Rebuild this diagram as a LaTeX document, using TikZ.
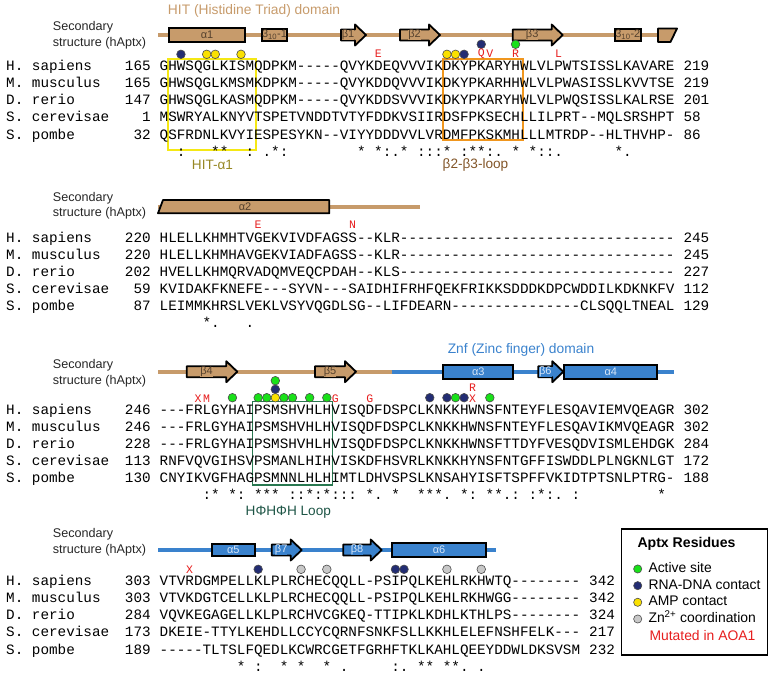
\documentclass[tikz,border=0pt]{standalone}
\usepackage{fontspec}
\setmainfont{Liberation Sans}
\setmonofont{Liberation Mono}

\definecolor{hittan}{RGB}{199,155,107}
\definecolor{hitdark}{RGB}{85,65,45}
\definecolor{znfblue}{RGB}{58,130,205}
\definecolor{znflight}{RGB}{215,230,248}
\definecolor{actgreen}{RGB}{25,225,25}
\definecolor{rnablue}{RGB}{35,45,115}
\definecolor{ampyellow}{RGB}{250,225,0}
\definecolor{zngray}{RGB}{200,200,200}
\definecolor{mutred}{RGB}{230,30,30}
\definecolor{boxyellow}{RGB}{245,232,20}
\definecolor{boxorange}{RGB}{240,150,30}
\definecolor{boxgreen}{RGB}{40,120,80}
\definecolor{hitlabel}{RGB}{150,135,35}
\definecolor{betalabel}{RGB}{130,85,40}
\definecolor{hphlabel}{RGB}{30,85,70}

% column grid of the alignment
\newcommand{\colw}{8.58}
\newcommand{\seqx}{159.5}

\newcommand{\seqblock}[3]{%
  \foreach \nm/\fst/\sq/\lst [count=\i from 0] in {#3} {
    \node[seqtext] (nm#1\i) at (6,{#2+17.1*\i}) {\nm};
    \node[seqtext, anchor=base east] (fs#1\i) at ({\seqx-\colw},{#2+17.1*\i}) {\fst};
    \node[seqtext] (sq#1\i) at (\seqx,{#2+17.1*\i}) {\sq};
    \node[seqtext] (ls#1\i) at ([xshift=\colw]sq#1\i.base east) {\lst};
  }}
\newcommand{\helix}[6]{%
  \node[helixbox, #6, minimum width={#3-#2}] (#1) at ({(#2+#3)/2},#4) {#5};}
\newcommand{\strand}[6]{%
  \draw[strandline, #6] (#2,#4-5.5) -- (#3-11,#4-5.5) -- (#3-11,#4-10.5) -- (#3,#4)
    -- (#3-11,#4+10.5) -- (#3-11,#4+5.5) -- (#2,#4+5.5) -- cycle;
  \node[sselem, #6] (#1) at ({(#2+#3-11)/2},#4) {#5};}

\begin{document}
\begin{tikzpicture}[x=1pt, y=-1pt, every node/.style={inner sep=0pt},
  seqtext/.style={font=\ttfamily\fontsize{14.3}{17}\selectfont, anchor=base west},
  mut/.style={font=\ttfamily\fontsize{11.5}{12}\selectfont, text=mutred},
  dot/.style={circle, draw=black!70, line width=0.6pt, minimum size=8.6pt, fill=#1},
  sstitle/.style={font=\fontsize{12.6}{15.7}\selectfont, align=left, anchor=west, text=black!85},
  sselem/.style={font=\fontsize{11}{11}\selectfont},
  helixbox/.style={rectangle, draw=black, line width=1.8pt, minimum height=14pt, sselem},
  strandline/.style={draw=black, line width=1.8pt, line join=round},
  hitss/.style={fill=hittan, text=hitdark},
  znfss/.style={fill=znfblue, text=znflight},
  hitline/.style={draw=hittan, line width=4pt},
  znfline/.style={draw=znfblue, line width=4pt},
  domtext/.style={font=\fontsize{13.8}{16}\selectfont},
  loopname/.style={font=\fontsize{13.6}{16}\selectfont},
  legtext/.style={font=\fontsize{13.9}{16}\selectfont, anchor=west, text height=10pt, text depth=3pt}]
\useasboundingbox (0,0) rectangle (774,677);

% ---- block 1
\node[domtext, text=hittan] (hit) at (254,10.7) {HIT (Histidine Triad) domain};
\node[sstitle] (ss1) at (52.7,34.9) {Secondary\\structure (hAptx)};
\draw[hitline] (158,35) -- (662,35);
\helix{a1}{169}{245}{35}{α1}{hitss}
\helix{t1}{262}{287}{35}{3\textsubscript{10}-1}{hitss, minimum height=12.5pt}
\strand{b1}{341}{366}{35}{β1}{hitss}
\strand{b2}{400}{440}{35}{β2}{hitss}
\strand{b3}{512.7}{562.7}{35}{β3}{hitss}
\helix{t2}{615}{640.7}{35}{3\textsubscript{10}-2}{hitss, minimum height=12.5pt}
\draw[strandline, fill=hittan] (658,28.5) -- (677,28.5) -- (670.5,42) -- (658,42) -- cycle;

\draw[boxyellow, line width=1.8pt] (167.7,59.3) rectangle (255.7,150);
\draw[boxorange, line width=1.8pt] (442.7,59.3) rectangle (522.7,140);
\foreach \c/\y/\f [count=\k] in {2/54.3/rnablue, 5/54.3/ampyellow, 6/54.3/ampyellow,
    9/54.3/ampyellow, 33/54.3/ampyellow, 34/54.3/ampyellow, 35/54.3/rnablue,
    37/44.3/rnablue, 41/44.3/actgreen}
  \node[dot=\f] (d1\k) at ({\seqx+(\c+0.5)*\colw},\y) {};
\foreach \c/\t [count=\k] in {25/E, 37/Q, 38/V, 41/R, 46/L}
  \node[mut] (m1\k) at ({\seqx+(\c+0.5)*\colw},53.3) {\t};

\seqblock{1}{70.6}{H. sapiens/165/GHWSQGLKISMQDPKM-----QVYKDEQVVVIKDKYPKARYHWLVLPWTSISSLKAVARE/219,
  M. musculus/165/GHWSQGLKMSMKDPKM-----QVYKDDQVVVIKDKYPKARHHWLVLPWASISSLKVVTSE/219,
  D. rerio/147/GHWSQGLKASMQDPKM-----QVYKDDSVVVIKDKYPKARYHWLVLPWQSISSLKALRSE/201,
  S. cerevisae/1/MSWRYALKNYVTSPETVNDDTVTYFDDKVSIIRDSFPKSECHLLILPRT--MQLSRSHPT/58,
  S. pombe/32/QSFRDNLKVYIESPESYKN--VIYYDDDVVLVRDMFPKSKMHLLLMTRDP--HLTHVHP-/86}
\node[seqtext] (cs1) at (\seqx,156.1) {~~:~~~**~~:~.*:~~~~~~~~*~*:.*~:::*~:**:.~*~*::.~~~~~~*.};
\node[loopname, text=hitlabel] (hita1) at (212.5,165) {HIT-α1};
\node[loopname, text=betalabel] (b2b3) at (475.5,165) {β2-β3-loop};

% ---- block 2
\node[sstitle] (ss2) at (52.7,205.7) {Secondary\\structure (hAptx)};
\draw[hitline] (158,206.7) -- (420,206.7);
\draw[strandline, fill=hittan] (163,200) -- (329.3,200) -- (329.3,213.3) -- (158,213.3) -- cycle;
\node[sselem, text=hitdark] (a2) at (245,206.7) {α2};
\foreach \c/\t [count=\k] in {11/E, 22/N}
  \node[mut] (m2\k) at ({\seqx+(\c+0.5)*\colw},225) {\t};

\seqblock{2}{242.2}{H. sapiens/220/HLELLKHMHTVGEKVIVDFAGSS--KLR--------------------------------/245,
  M. musculus/220/HLELLKHMHAVGEKVIADFAGSS--KLR--------------------------------/245,
  D. rerio/202/HVELLKHMQRVADQMVEQCPDAH--KLS--------------------------------/227,
  S. cerevisae/59/KVIDAKFKNEFE---SYVN---SAIDHIFRHFQEKFRIKKSDDDKDPCWDDILKDKNKFV/112,
  S. pombe/87/LEIMMKHRSLVEKLVSYVQGDLSG--LIFDEARN---------------CLSQQLTNEAL/129}
\node[seqtext] (cs2) at (\seqx,327.7) {~~~~~*.~~~.};

% ---- block 3
\node[domtext, text=znfblue] (znf) at (521,350) {Znf (Zinc finger) domain};
\node[sstitle] (ss3) at (52.7,373.4) {Secondary\\structure (hAptx)};
\draw[hitline] (158,371.7) -- (391.7,371.7);
\draw[znfline] (391.7,371.7) -- (674,371.7);
\strand{b4}{186.7}{237.3}{371.7}{β4}{hitss}
\strand{b5}{315}{356}{371.7}{β5}{hitss}
\helix{a3}{443.3}{513.3}{371.7}{α3}{znfss}
\strand{b6}{538.3}{563.3}{371.7}{β6}{znfss}
\helix{a4}{564.3}{657.3}{371.7}{α4}{znfss}

\draw[boxgreen, line width=1.4pt] (252.3,401.7) rectangle (332.3,485);
\foreach \c/\y/\f [count=\k] in {13/380.7/actgreen, 13/389.3/rnablue, 13/397.7/ampyellow,
    8/397.7/actgreen, 11/397.7/actgreen, 12/397.7/actgreen, 14/397.7/actgreen,
    15/397.7/actgreen, 17/397.7/actgreen, 19/397.7/actgreen, 31/397.7/rnablue,
    33/397.7/rnablue, 34/397.7/actgreen, 35/397.7/rnablue, 38/397.7/actgreen}
  \node[dot=\f] (d3\k) at ({\seqx+(\c+0.5)*\colw},\y) {};
\foreach \c/\y/\t [count=\k] in {4/398.3/X, 5/398.3/M, 20/398.3/G, 24/398.3/G,
    36/387.7/R, 36/399/X}
  \node[mut] (m3\k) at ({\seqx+(\c+0.5)*\colw},\y) {\t};

\seqblock{3}{414}{H. sapiens/246/---FRLGYHAIPSMSHVHLHVISQDFDSPCLKNKKHWNSFNTEYFLESQAVIEMVQEAGR/302,
  M. musculus/246/---FRLGYHAIPSMSHVHLHVISQDFDSPCLKNKKHWNSFNTEYFLESQAVIKMVQEAGR/302,
  D. rerio/228/---FRLGYHAIPSMSHVHLHVISQDFDSPCLKNKKHWNSFTTDYFVESQDVISMLEHDGK/284,
  S. cerevisae/113/RNFVQVGIHSVPSMANLHIHVISKDFHSVRLKNKKHYNSFNTGFFISWDDLPLNGKNLGT/172,
  S. pombe/130/CNYIKVGFHAGPSMNNLHLHIMTLDHVSPSLKNSAHYISFTSPFFVKIDTPTSNLPTRG-/188}
\node[seqtext] (cs3) at (\seqx,499.5) {~~~~~:*~*:~***~::*:*:::~*.~*~~***.~*:~**.:~:*:.~:~~~~~~~~~*};
\node[loopname, text=hphlabel] (hph) at (288.3,511.7) {HΦHΦH Loop};

% ---- block 4
\node[sstitle] (ss4) at (52.7,542) {Secondary\\structure (hAptx)};
\draw[znfline] (158,550) -- (496,550);
\helix{a5}{211.7}{255}{550}{α5}{znfss, minimum height=12.7pt}
\strand{b7}{271.7}{301.7}{550}{β7}{znfss}
\strand{b8}{343.3}{381.7}{550}{β8}{znfss}
\helix{a6}{392.3}{485.7}{550}{α6}{znfss, minimum height=13.3pt}

\foreach \c/\f [count=\k] in {11/rnablue, 16/zngray, 19/zngray, 27/rnablue,
    28/rnablue, 33/zngray, 37/zngray}
  \node[dot=\f] (d4\k) at ({\seqx+(\c+0.5)*\colw},569.3) {};
\node[mut] (m41) at ({\seqx+3.5*\colw},569.3) {X};

\seqblock{4}{585.6}{H. sapiens/303/VTVRDGMPELLKLPLRCHECQQLL-PSIPQLKEHLRKHWTQ--------/342,
  M. musculus/303/VTVKDGTCELLKLPLRCHECQQLL-PSIPQLKEHLRKHWGG--------/342,
  D. rerio/284/VQVKEGAGELLKLPLRCHVCGKEQ-TTIPKLKDHLKTHLPS--------/324,
  S. cerevisae/173/DKEIE-TTYLKEHDLLCCYCQRNFSNKFSLLKKHLELEFNSHFELK---/217,
  S. pombe/189/-----TLTSLFQEDLKCWRCGETFGRHFTKLKAHLQEEYDDWLDKSVSM/232}
\node[seqtext] (cs4) at (\seqx,671.1) {~~~~~~~~~*~:~~*~*~~*~.~~~~~:.~**~**.~.};

% ---- legend
\draw[black, line width=1.3pt] (621.7,529) rectangle (767.7,655);
\node[legtext, font=\bfseries\fontsize{14.1}{16}\selectfont] (lgt) at (637.3,544) {Aptx Residues};
\foreach \f/\t [count=\k] in {actgreen/Active site, rnablue/RNA-DNA contact,
    ampyellow/AMP contact, zngray/Zn\textsuperscript{2+} coordination} {
  \node[dot=\f, minimum size=8.2pt] (lg\k) at (637.7,{552.3+16.67*\k}) {};
  \node[legtext] (lt\k) at (648.3,{552.3+16.67*\k}) {\t};
}
\node[legtext, text=mutred] (lt5) at (649.3,636.7) {Mutated in AOA1};
\end{tikzpicture}
\end{document}
